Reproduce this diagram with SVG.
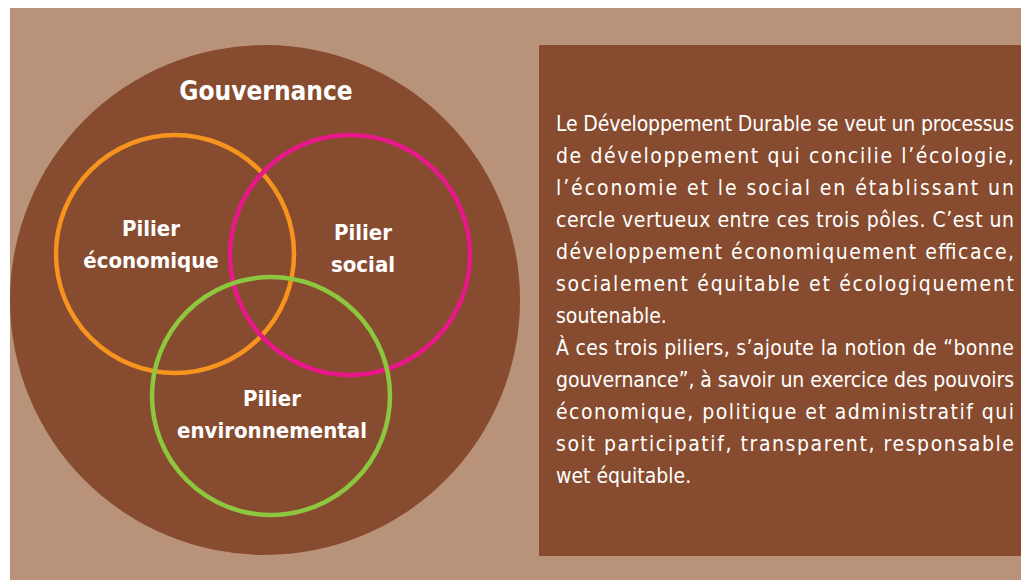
<svg xmlns="http://www.w3.org/2000/svg" width="1021" height="580" viewBox="0 0 1021 580">
<style>
.lbl{font-family:"DejaVu Sans Condensed","DejaVu Sans","Liberation Sans",sans-serif;font-weight:bold;fill:#ffffff;text-anchor:middle}
.body{font-family:"DejaVu Sans Condensed","DejaVu Sans","Liberation Sans",sans-serif;font-size:21px;fill:#ffffff}
.ring{fill:none;stroke-width:4.5}
</style>
<rect x="0" y="0" width="1021" height="580" fill="#ffffff"/>
<rect x="10" y="8" width="1011" height="572" fill="#b8937a"/>
<g id="gouvernance">
<circle cx="265" cy="300" r="255" fill="#874c2f"/>
<text class="lbl" x="266" y="100" font-size="26">Gouvernance</text>
</g>
<g id="pilier-economique">
<circle class="ring" cx="175" cy="254" r="119" stroke="#f7941d"/>
<text class="lbl" x="151" y="236" font-size="22">Pilier</text>
<text class="lbl" x="151" y="268" font-size="22">économique</text>
</g>
<g id="pilier-social">
<circle class="ring" cx="350" cy="255" r="120" stroke="#e8178a"/>
<text class="lbl" x="363" y="240" font-size="22">Pilier</text>
<text class="lbl" x="363" y="272" font-size="22">social</text>
</g>
<g id="pilier-environnemental">
<circle class="ring" cx="271" cy="396" r="119" stroke="#8dc63f"/>
<text class="lbl" x="272" y="406" font-size="22">Pilier</text>
<text class="lbl" x="272" y="438" font-size="22">environnemental</text>
</g>
<g id="connectors"/>
<g id="description">
<rect x="539" y="45" width="482" height="511" fill="#874c2f"/>
<text class="body" x="556" y="131" textLength="458" lengthAdjust="spacing">Le Développement Durable se veut un processus</text>
<text class="body" x="556" y="163" textLength="458" lengthAdjust="spacing">de développement qui concilie l’écologie,</text>
<text class="body" x="556" y="195" textLength="458" lengthAdjust="spacing">l’économie et le social en établissant un</text>
<text class="body" x="556" y="227" textLength="458" lengthAdjust="spacing">cercle vertueux entre ces trois pôles. C’est un</text>
<text class="body" x="556" y="259" textLength="458" lengthAdjust="spacing">développement économiquement efficace,</text>
<text class="body" x="556" y="291" textLength="458" lengthAdjust="spacing">socialement équitable et écologiquement</text>
<text class="body" x="556" y="323">soutenable.</text>
<text class="body" x="556" y="355" textLength="458" lengthAdjust="spacing">À ces trois piliers, s’ajoute la notion de “bonne</text>
<text class="body" x="556" y="387" textLength="458" lengthAdjust="spacing">gouvernance”, à savoir un exercice des pouvoirs</text>
<text class="body" x="556" y="419" textLength="458" lengthAdjust="spacing">économique, politique et administratif qui</text>
<text class="body" x="556" y="451" textLength="458" lengthAdjust="spacing">soit participatif, transparent, responsable</text>
<text class="body" x="556" y="483">wet équitable.</text>
</g>
</svg>
